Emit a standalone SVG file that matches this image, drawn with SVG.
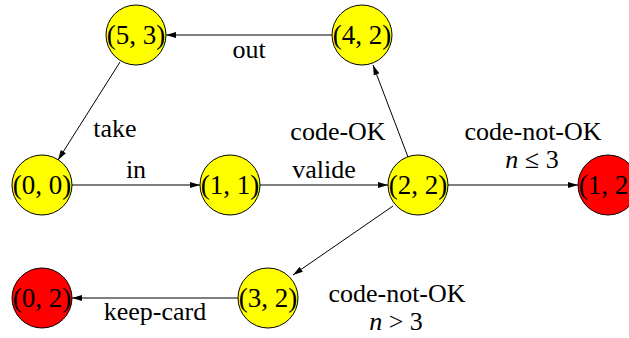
<svg xmlns="http://www.w3.org/2000/svg" width="629" height="338" viewBox="0 0 629 338">
<defs>
<marker id="ah" viewBox="0 0 10 6" refX="10" refY="3" markerWidth="10" markerHeight="6" markerUnits="userSpaceOnUse" orient="auto">
<path d="M0,0 L10,3 L0,6 Z" fill="#000"/>
</marker>
</defs>
<style>
.y{fill:#ffff00;stroke:#000;stroke-width:1}
.r{fill:#ff0000;stroke:#000;stroke-width:1}
.nt{font-size:27px;text-anchor:middle;fill:#000}
.lb{font-size:26px;text-anchor:middle;fill:#000}
.e{stroke:#000;stroke-width:1;fill:none;marker-end:url(#ah)}
</style>
<rect width="629" height="338" fill="#fff"/>
<g id="edges" font-family="Liberation Serif, Times New Roman, serif">
<line class="e" x1="332" y1="35" x2="166" y2="35"/>
<line class="e" x1="120" y1="62" x2="58" y2="160"/>
<line class="e" x1="72" y1="185" x2="200" y2="185"/>
<line class="e" x1="260" y1="185" x2="388" y2="185"/>
<line class="e" x1="408" y1="157" x2="373" y2="65"/>
<line class="e" x1="448" y1="185" x2="578" y2="185"/>
<line class="e" x1="393" y1="206" x2="293" y2="275"/>
<line class="e" x1="238" y1="298" x2="72" y2="298"/>
<text class="lb" x="249" y="58">out</text>
<text class="lb" x="115" y="137">take</text>
<text class="lb" x="136" y="178">in</text>
<text class="lb" x="324" y="178">valide</text>
<text class="lb" x="338" y="140">code-OK</text>
<text class="lb" x="533" y="140">code-not-OK</text>
<text class="lb" x="532" y="168"><tspan font-style="italic">n</tspan> ≤ 3</text>
<text class="lb" x="397" y="302">code-not-OK</text>
<text class="lb" x="396" y="330"><tspan font-style="italic">n</tspan> &gt; 3</text>
<text class="lb" x="155" y="320">keep-card</text>
</g>
<g font-family="Liberation Serif, Times New Roman, serif">
<g id="n53"><circle class="y" cx="136" cy="35" r="30"/><text class="nt" x="136" y="44">(5, 3)</text></g>
<g id="n42"><circle class="y" cx="362" cy="35" r="30"/><text class="nt" x="362" y="44">(4, 2)</text></g>
<g id="n00"><circle class="y" cx="42" cy="185" r="30"/><text class="nt" x="42" y="194">(0, 0)</text></g>
<g id="n11"><circle class="y" cx="230" cy="185" r="30"/><text class="nt" x="230" y="194">(1, 1)</text></g>
<g id="n22"><circle class="y" cx="418" cy="185" r="30"/><text class="nt" x="418" y="194">(2, 2)</text></g>
<g id="n12"><circle class="r" cx="608" cy="185" r="30"/><text class="nt" x="608" y="194">(1, 2)</text></g>
<g id="n02"><circle class="r" cx="42" cy="298" r="30"/><text class="nt" x="42" y="307">(0, 2)</text></g>
<g id="n32"><circle class="y" cx="268" cy="298" r="30"/><text class="nt" x="268" y="307">(3, 2)</text></g>
</g>
</svg>
